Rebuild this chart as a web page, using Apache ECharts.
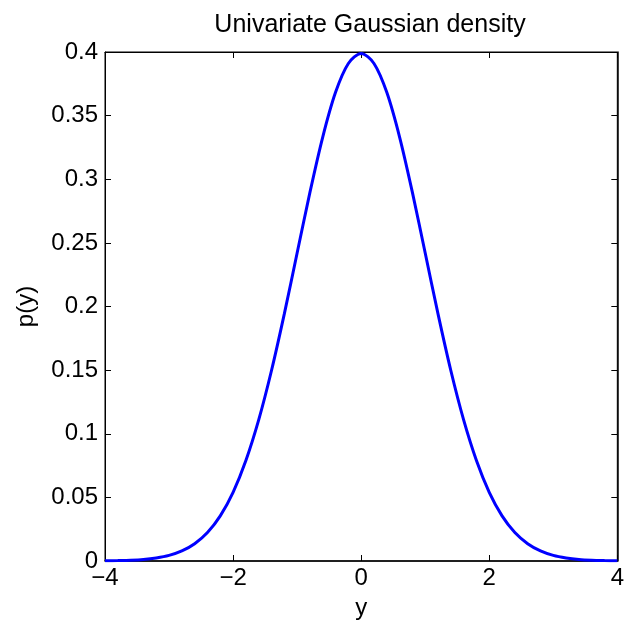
<!DOCTYPE html>
<html><head><meta charset="utf-8">
<script src="https://cdn.jsdelivr.net/npm/echarts@6/dist/echarts.min.js"></script>
<style>html,body{margin:0;padding:0;background:#fff}#c{width:627px;height:625px}</style>
</head><body><div id="c"></div>
<script>
const titleText = 'Univariate Gaussian density';
const xName = 'y';
const yName = 'p(y)';
const xValues = [-4,-3.8,-3.6,-3.4,-3.2,-3,-2.8,-2.6,-2.4,-2.2,-2,-1.8,-1.6,-1.4,-1.2,-1,-0.8,-0.6,-0.4,-0.2,0,0.2,0.4,0.6,0.8,1,1.2,1.4,1.6,1.8,2,2.2,2.4,2.6,2.8,3,3.2,3.4,3.6,3.8,4];
const density = [0.0001,0.0003,0.0006,0.0012,0.0024,0.0044,0.0079,0.0136,0.0224,0.0355,0.0540,0.0790,0.1109,0.1497,0.1942,0.2420,0.2897,0.3332,0.3683,0.3910,0.3989,0.3910,0.3683,0.3332,0.2897,0.2420,0.1942,0.1497,0.1109,0.0790,0.0540,0.0355,0.0224,0.0136,0.0079,0.0044,0.0024,0.0012,0.0006,0.0003,0.0001];

const font = 'Liberation Sans, Arial, Helvetica, sans-serif';
const chart = echarts.init(document.getElementById('c'));
const tickStyle = {show:true, inside:true, length:6, lineStyle:{color:'#000', width:1}};
chart.setOption({
  animation:false,
  backgroundColor:'#fff',
  title:{text:titleText, left:365, textAlign:'center', top:8, textStyle:{fontFamily:font, fontSize:25, fontWeight:'normal', color:'#000'}},
  grid:{left:105, right:9, top:52, bottom:58, show:true, borderColor:'#000', borderWidth:1, backgroundColor:'#fff'},
  xAxis:[{
    type:'value', min:-4, max:4, interval:2, position:'bottom',
    name:xName, nameLocation:'middle', nameGap:35,
    nameTextStyle:{fontFamily:font, fontSize:24, color:'#000'},
    axisLine:{show:true, onZero:false, lineStyle:{color:'#000', width:1.5}},
    axisTick:tickStyle, splitLine:{show:false},
    axisLabel:{fontFamily:font, fontSize:24, color:'#000', margin:5, formatter:v=>String(v).replace('-', '\u2212')}
  },{
    type:'value', min:-4, max:4, interval:2, position:'top',
    axisLine:{show:true, onZero:false, lineStyle:{color:'#000', width:1}},
    axisTick:tickStyle, axisLabel:{show:false}, splitLine:{show:false}
  }],
  yAxis:[{
    type:'value', min:0, max:0.4, interval:0.05, position:'left',
    name:yName, nameLocation:'middle', nameGap:67, nameRotate:90,
    nameTextStyle:{fontFamily:font, fontSize:24, color:'#000'},
    axisLine:{show:true, onZero:false, lineStyle:{color:'#000', width:1}},
    axisTick:tickStyle, splitLine:{show:false},
    axisLabel:{fontFamily:font, fontSize:24, color:'#000', margin:7, formatter:v=>String(+v.toFixed(2))}
  },{
    type:'value', min:0, max:0.4, interval:0.05, position:'right',
    axisLine:{show:true, onZero:false, lineStyle:{color:'#000', width:1.5}},
    axisTick:tickStyle, axisLabel:{show:false}, splitLine:{show:false}
  }],
  series:[{
    type:'line', xAxisIndex:0, yAxisIndex:0, smooth:0.3, showSymbol:false,
    lineStyle:{color:'#0000ff', width:3},
    data:xValues.map((x,i)=>[x, density[i]])
  }]
});
</script></body></html>
